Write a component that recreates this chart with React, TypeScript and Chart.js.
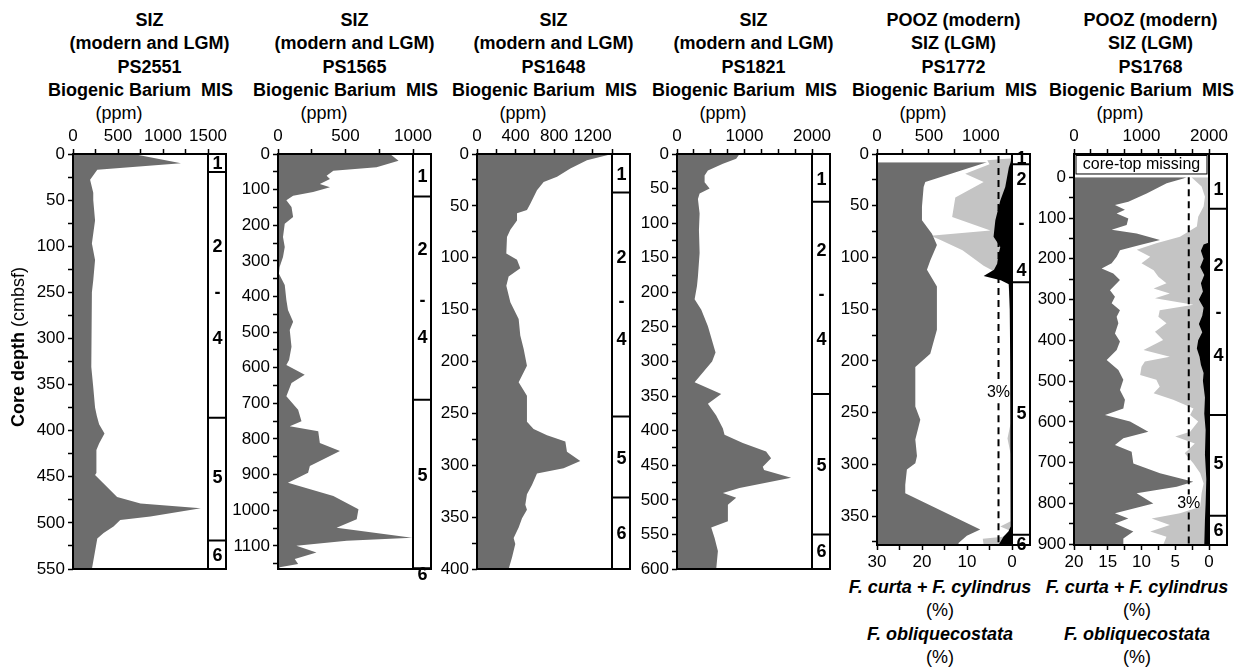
import React, { useEffect, useRef } from 'react';
import { Chart, registerables } from 'chart.js';

Chart.register(...registerables);

const FONT = '"Liberation Sans", Arial, Helvetica, sans-serif';
const DARK = '#6d6d6d';
const LIGHT = '#c4c4c4';

// ---------------- Panel 1: PS2551 (depth in axis units; labels below) ----------------
const P1_DEPTH = [0, 10, 17, 28, 42, 50, 72, 97, 115, 137, 150, 172, 208, 231, 253, 275, 284, 293, 303, 314, 321, 346, 348, 372, 379, 384, 393, 397, 404, 411, 417, 450];
const P1_BA = [670, 1200, 270, 190, 225, 225, 245, 210, 245, 225, 210, 200, 210, 200, 225, 245, 265, 290, 350, 290, 260, 260, 245, 490, 750, 1420, 860, 525, 450, 340, 270, 210];
const P1_Y_LABELS = ['0', '50', '100', '250', '300', '350', '400', '450', '500', '550'];
const P1_MIS_BOUNDS = [19.5, 286, 419];
const P1_MIS_LABELS = ['1', '2', '-', '4', '5', '6'];
const P1_MIS_AT = [10, 100, 150, 200, 350, 435];

// ---------------- Panel 2: PS1565 ----------------
const P2_DEPTH = [0, 19, 37, 47, 61, 70, 84, 93, 107, 117, 130, 149, 177, 196, 233, 261, 289, 317, 336, 368, 410, 438, 471, 494, 541, 578, 592, 620, 643, 680, 718, 750, 764, 778, 811, 834, 876, 895, 923, 960, 997, 1025, 1049, 1077, 1086, 1100, 1119, 1137, 1151, 1160, 1165];
const P2_BA = [830, 893, 730, 410, 360, 385, 310, 385, 260, 112, 62, 100, 112, 50, 37, 50, 37, 12, 7, 50, 62, 74, 112, 87, 100, 82, 62, 198, 100, 62, 149, 174, 87, 298, 310, 459, 236, 223, 74, 410, 596, 583, 434, 993, 509, 136, 285, 124, 149, 12, 10];
const P2_MIS_BOUNDS = [119, 690, 1163];
const P2_MIS_LABELS = ['1', '2', '-', '4', '5', '6'];
const P2_MIS_AT = [61, 266, 410, 513, 900, 1180];

// ---------------- Panel 3: PS1648 ----------------
const P3_DEPTH = [0, 6, 14, 22, 27, 35, 48, 54, 57, 64, 73, 80, 96, 102, 110, 118, 127, 143, 159, 175, 188, 204, 220, 233, 245, 258, 265, 271, 277, 287, 296, 303, 308, 319, 328, 338, 343, 351, 360, 370, 376, 389, 400];
const P3_BA = [1400, 1140, 968, 830, 691, 622, 553, 518, 415, 415, 346, 311, 304, 415, 449, 328, 304, 346, 432, 449, 484, 518, 432, 518, 518, 518, 587, 726, 916, 933, 1071, 898, 622, 570, 518, 501, 518, 467, 432, 380, 397, 363, 328];
const P3_MIS_BOUNDS = [37, 253, 331];
const P3_MIS_LABELS = ['1', '2', '-', '4', '5', '6'];
const P3_MIS_AT = [19, 99, 142, 178, 293, 365];

// ---------------- Panel 4: PS1821 ----------------
const P4_DEPTH = [0, 7, 14, 24, 31, 41, 50, 57, 65, 86, 110, 143, 177, 191, 210, 225, 249, 287, 300, 330, 347, 361, 378, 397, 406, 418, 430, 440, 452, 457, 468, 483, 490, 497, 507, 531, 540, 555, 574, 600];
const P4_BA = [926, 877, 680, 458, 409, 409, 483, 335, 310, 335, 325, 335, 310, 296, 261, 360, 458, 571, 520, 261, 655, 458, 581, 680, 704, 975, 1320, 1394, 1271, 1290, 1690, 926, 680, 877, 754, 754, 507, 557, 606, 581];
const P4_MIS_BOUNDS = [69, 347, 550];
const P4_MIS_LABELS = ['1', '2', '-', '4', '5', '6'];
const P4_MIS_AT = [36, 139, 203, 268, 449, 574];

// ---------------- Panel 5: PS1772 ----------------
const P5_DEPTH = [8, 27, 32, 51, 64, 77, 88, 103, 112, 128, 148, 170, 193, 206, 225, 244, 257, 276, 292, 299, 305, 320, 328, 363, 369, 376, 378];
const P5_BA = [1058, 465, 449, 433, 433, 529, 577, 513, 481, 577, 577, 577, 513, 369, 369, 369, 417, 369, 385, 369, 288, 272, 272, 994, 865, 785, 785];
const P5_CC_DEPTH = [4, 6, 10, 19, 27, 42, 61, 74, 79, 83, 93, 108, 115, 119, 140, 200, 260, 275, 290, 355, 360, 364, 370, 372, 378];
const P5_CC = [0, 5.5, 5.0, 10.4, 6.3, 12.6, 13.3, 4.8, 18.1, 16, 11, 6.3, 3.3, 1.0, 0.5, 0.4, 0.3, 1.0, 0.3, 0.3, 2.6, 0.5, 2.0, 6.5, 6.3];
const P5_OB_DEPTH = [0, 8, 13, 32, 45, 64, 80, 90, 97, 106, 112, 118, 122, 126, 150, 200, 300, 360, 365, 370, 378];
const P5_OB = [0, 0.3, 0.7, 1.5, 2.6, 3.7, 4.1, 2.6, 3.0, 3.3, 4.0, 6.3, 2.5, 0.7, 0.5, 0.4, 0.3, 0.3, 0.8, 1.9, 3.0];
const P5_DASH_DEPTH = [2, 221, 231, 241, 378];
const P5_DASH = [3, 3, null, 3, 3];
const P5_DASH_LABEL_AT = 231;
const P5_MIS_BOUNDS = [10, 124, 368];
const P5_MIS_LABELS = ['1', '2', '-', '4', '5', '6'];
const P5_MIS_AT = [4, 24, 67, 112, 250, 377];

// ---------------- Panel 6: PS1768 ----------------
const P6_DEPTH = [0, 3, 15, 40, 60, 68, 80, 89, 101, 117, 129, 138, 154, 166, 179, 195, 211, 224, 236, 252, 277, 293, 309, 326, 342, 358, 383, 403, 424, 448, 473, 497, 522, 546, 567, 583, 599, 624, 640, 657, 673, 702, 726, 747, 759, 775, 800, 824, 837, 849, 869, 886, 902];
const P6_BA = [1669, 1620, 1373, 1076, 805, 607, 755, 632, 805, 780, 558, 928, 1274, 978, 681, 632, 558, 410, 582, 681, 533, 607, 558, 681, 632, 657, 607, 681, 632, 484, 657, 731, 681, 755, 731, 459, 830, 1101, 731, 607, 854, 879, 1274, 1768, 1521, 928, 1175, 607, 805, 607, 879, 731, 731];
const P6_CC_DEPTH = [0, 23, 48, 72, 97, 121, 146, 162, 178, 195, 211, 228, 244, 260, 273, 285, 297, 313, 326, 342, 358, 379, 399, 424, 440, 452, 465, 485, 497, 514, 530, 546, 567, 583, 599, 624, 636, 653, 677, 702, 726, 751, 775, 808, 824, 837, 853, 869, 882, 902];
const P6_CC = [2.6, 1.1, 0.6, 0.8, 1.6, 1.8, 4.3, 7.8, 10.7, 8.7, 10.0, 8.2, 7.5, 6.3, 8.2, 5.8, 8.0, 2.3, 7.3, 7.5, 6.3, 8.0, 6.8, 9.7, 5.8, 9.5, 10.0, 10.2, 7.8, 7.3, 8.2, 5.3, 2.3, 2.8, 1.6, 2.8, 5.0, 2.1, 3.6, 2.3, 1.3, 0.8, 1.1, 1.3, 4.3, 8.5, 5.8, 8.7, 6.3, 6.8];
const P6_OB_DEPTH = [0, 160, 165, 180, 200, 220, 240, 260, 280, 300, 320, 340, 360, 380, 400, 420, 440, 460, 480, 500, 540, 580, 620, 680, 740, 800, 840, 880, 902];
const P6_OB = [0, 0, 0.8, 1.2, 0.8, 1.3, 0.7, 1.2, 0.9, 1.5, 0.8, 1.0, 1.5, 1.0, 1.6, 1.8, 1.4, 1.2, 0.8, 0.9, 0.6, 0.7, 0.5, 0.6, 0.4, 0.5, 0.6, 0.7, 0.7];
const P6_DASH_DEPTH = [0, 778, 800, 822, 902];
const P6_DASH = [3, 3, null, 3, 3];
const P6_DASH_LABEL_AT = 800;
const P6_MIS_BOUNDS = [77, 583, 830];
const P6_MIS_LABELS = ['1', '2', '-', '4', '5', '6'];
const P6_MIS_AT = [29, 216, 330, 437, 700, 866];
const P6_CORE_TOP_END = -8;

// ---------------- layout constants ----------------
const AXIS_X = [73, 278, 477, 677, 877, 1074];
const CANVAS_TOP = 110;
const X_TOP_H = 44;
const X_BOT_H = 30;
const YW = 70;
const PLOT_W = 135;
const MIS_W = 18;
const RIGHT_PAD = MIS_W + 4;
const CANVAS_W = YW + PLOT_W + RIGHT_PAD;

const steps = (a: number, b: number, s: number) => {
  const out: number[] = [];
  for (let v = a; v <= b + 1e-9; v += s) out.push(+v.toFixed(4));
  return out;
};
const zip = (ys: number[], xs: (number | null)[]) => ys.map((y, i) => ({ x: xs[i], y }));

const PANELS: any[] = [
  {
    titles: ['SIZ', '(modern and LGM)', 'PS2551'], depth: P1_DEPTH, ba: P1_BA,
    xMax: 1500, xTicks: steps(0, 1500, 250), xLab: (v: number) => (v % 500 === 0 ? String(v) : ''),
    yMin: 0, yMax: 450, yTicks: steps(0, 450, 25), yLab: (v: number) => (v % 50 === 0 ? P1_Y_LABELS[v / 50] : ''),
    mis: P1_MIS_BOUNDS, misLab: P1_MIS_LABELS, misAt: P1_MIS_AT, plotBottom: 569,
  },
  {
    titles: ['SIZ', '(modern and LGM)', 'PS1565'], depth: P2_DEPTH, ba: P2_BA,
    xMax: 1000, xTicks: steps(0, 1000, 250), xLab: (v: number) => (v % 500 === 0 ? String(v) : ''),
    yMin: 0, yMax: 1165, yTicks: steps(0, 1150, 50), yLab: (v: number) => (v % 100 === 0 ? String(v) : ''),
    mis: P2_MIS_BOUNDS, misLab: P2_MIS_LABELS, misAt: P2_MIS_AT, plotBottom: 569,
  },
  {
    titles: ['SIZ', '(modern and LGM)', 'PS1648'], depth: P3_DEPTH, ba: P3_BA,
    xMax: 1400, xTicks: steps(0, 1400, 200), xLab: (v: number) => (v % 400 === 0 ? String(v) : ''),
    yMin: 0, yMax: 400, yTicks: steps(0, 400, 25), yLab: (v: number) => (v % 50 === 0 ? String(v) : ''),
    mis: P3_MIS_BOUNDS, misLab: P3_MIS_LABELS, misAt: P3_MIS_AT, plotBottom: 569,
  },
  {
    titles: ['SIZ', '(modern and LGM)', 'PS1821'], depth: P4_DEPTH, ba: P4_BA,
    xMax: 2000, xTicks: steps(0, 2000, 250), xLab: (v: number) => (v % 1000 === 0 ? String(v) : ''),
    yMin: 0, yMax: 600, yTicks: steps(0, 600, 25), yLab: (v: number) => (v % 50 === 0 ? String(v) : ''),
    mis: P4_MIS_BOUNDS, misLab: P4_MIS_LABELS, misAt: P4_MIS_AT, plotBottom: 569,
  },
  {
    titles: ['POOZ (modern)', 'SIZ (LGM)', 'PS1772'], depth: P5_DEPTH, ba: P5_BA,
    xMax: 1300, xTicks: steps(0, 1250, 250), xLab: (v: number) => (v % 500 === 0 ? String(v) : ''),
    yMin: 0, yMax: 378, yTicks: steps(0, 375, 25), yLab: (v: number) => (v % 50 === 0 ? String(v) : ''),
    mis: P5_MIS_BOUNDS, misLab: P5_MIS_LABELS, misAt: P5_MIS_AT, plotBottom: 545,
    pctMax: 30, pctTicks: steps(0, 30, 5), pctLab: (v: number) => (v % 10 === 0 ? String(v) : ''),
    ccDepth: P5_CC_DEPTH, cc: P5_CC, obDepth: P5_OB_DEPTH, ob: P5_OB,
    dashDepth: P5_DASH_DEPTH, dash: P5_DASH, dashLabelAt: P5_DASH_LABEL_AT,
  },
  {
    titles: ['POOZ (modern)', 'SIZ (LGM)', 'PS1768'], depth: P6_DEPTH, ba: P6_BA,
    xMax: 2000, xTicks: steps(0, 2000, 250), xLab: (v: number) => (v % 1000 === 0 ? String(v) : ''),
    yMin: -57, yMax: 902, yTicks: steps(0, 900, 50), yLab: (v: number) => (v % 100 === 0 ? String(v) : ''),
    mis: P6_MIS_BOUNDS, misLab: P6_MIS_LABELS, misAt: P6_MIS_AT, plotBottom: 545,
    pctMax: 20, pctTicks: steps(0, 20, 2.5), pctLab: (v: number) => (v % 5 === 0 ? String(v) : ''),
    ccDepth: P6_CC_DEPTH, cc: P6_CC, obDepth: P6_OB_DEPTH, ob: P6_OB,
    dashDepth: P6_DASH_DEPTH, dash: P6_DASH, dashLabelAt: P6_DASH_LABEL_AT,
    coreTopEnd: P6_CORE_TOP_END,
  },
];

const tickFont = { family: FONT, size: 17 };
const gridCfg = { drawOnChartArea: false, drawTicks: true, tickLength: 5, tickColor: '#000', tickWidth: 1.5 };

function decorPlugin(p: any) {
  return {
    id: 'decor',
    afterDraw(chart: any) {
      const { ctx, chartArea: a, scales } = chart;
      const y = scales.y;
      ctx.save();
      if (p.coreTopEnd !== undefined) {
        const yb = y.getPixelForValue(p.coreTopEnd);
        ctx.fillStyle = '#fff';
        ctx.fillRect(a.left, a.top, a.right - a.left, yb - a.top);
        ctx.strokeStyle = '#000';
        ctx.lineWidth = 1;
        ctx.strokeRect(a.left + 2, a.top + 1.5, a.right - a.left - 4, yb - a.top - 1.5);
        ctx.fillStyle = '#000';
        ctx.font = `16px ${FONT}`;
        ctx.textAlign = 'center';
        ctx.textBaseline = 'middle';
        ctx.fillText('core-top missing', (a.left + a.right) / 2, (a.top + yb) / 2 + 1);
      }
      if (p.dashLabelAt !== undefined) {
        const x2 = scales.x2;
        ctx.fillStyle = '#000';
        ctx.font = `16px ${FONT}`;
        ctx.textAlign = 'center';
        ctx.textBaseline = 'middle';
        ctx.fillText('3%', x2.getPixelForValue(3), y.getPixelForValue(p.dashLabelAt));
      }
      ctx.strokeStyle = '#000';
      ctx.lineWidth = 2;
      ctx.strokeRect(a.left, a.top, a.right - a.left, a.bottom - a.top);
      const mx0 = a.right;
      ctx.strokeRect(mx0, a.top, MIS_W, a.bottom - a.top);
      ctx.beginPath();
      for (const b of p.mis) {
        const py = Math.min(y.getPixelForValue(b), a.bottom);
        ctx.moveTo(mx0, py);
        ctx.lineTo(mx0 + MIS_W, py);
      }
      ctx.stroke();
      ctx.fillStyle = '#000';
      ctx.font = `bold 18px ${FONT}`;
      ctx.textAlign = 'center';
      ctx.textBaseline = 'middle';
      p.misLab.forEach((t: string, i: number) => {
        ctx.fillText(t, mx0 + MIS_W / 2 + 0.5, y.getPixelForValue(p.misAt[i]) + 1);
      });
      ctx.restore();
    },
  };
}

function buildConfig(p: any) {
  const hasPct = !!p.cc;
  const area = (data: any[], axis: string, color: string, label: string) => ({
    label, data, xAxisID: axis, yAxisID: 'y', fill: 'origin', backgroundColor: color,
    borderColor: 'rgba(0,0,0,0)', borderWidth: 0, pointRadius: 0, tension: 0,
  });
  const datasets: any[] = [];
  if (hasPct) {
    datasets.push({
      label: '3%', data: zip(p.dashDepth, p.dash), xAxisID: 'x2', yAxisID: 'y', fill: false,
      borderColor: '#000', borderWidth: 2, borderDash: [7, 5], pointRadius: 0, spanGaps: false,
    });
    datasets.push(area(zip(p.obDepth, p.ob), 'x2', '#000', 'F. obliquecostata'));
  }
  datasets.push(area(zip(p.depth, p.ba), 'x', DARK, 'Biogenic Barium'));
  if (hasPct) datasets.push(area(zip(p.ccDepth, p.cc), 'x2', LIGHT, 'F. curta + F. cylindrus'));

  const scales: any = {
    x: {
      type: 'linear', position: 'top', min: 0, max: p.xMax,
      afterBuildTicks: (s: any) => { s.ticks = p.xTicks.map((v: number) => ({ value: v })); },
      ticks: { callback: (v: number) => p.xLab(v), autoSkip: false, maxRotation: 0, minRotation: 0, font: tickFont, color: '#000', padding: 2 },
      grid: gridCfg, border: { display: false },
      afterFit: (s: any) => { s.height = X_TOP_H; s.paddingLeft = 0; s.paddingRight = 0; },
    },
    y: {
      type: 'linear', reverse: true, min: p.yMin, max: p.yMax,
      afterBuildTicks: (s: any) => { s.ticks = p.yTicks.map((v: number) => ({ value: v })); },
      ticks: { callback: (v: number) => p.yLab(v), autoSkip: false, font: tickFont, color: '#000', padding: 3 },
      grid: gridCfg, border: { display: false },
      afterFit: (s: any) => { s.width = YW; s.paddingTop = 0; s.paddingBottom = 0; },
    },
  };
  if (hasPct) {
    scales.x2 = {
      type: 'linear', position: 'bottom', min: 0, max: p.pctMax, reverse: true,
      afterBuildTicks: (s: any) => { s.ticks = p.pctTicks.map((v: number) => ({ value: v })); },
      ticks: { callback: (v: number) => p.pctLab(v), autoSkip: false, maxRotation: 0, minRotation: 0, font: tickFont, color: '#000', padding: 2 },
      grid: gridCfg, border: { display: false },
      afterFit: (s: any) => { s.height = X_BOT_H; s.paddingLeft = 0; s.paddingRight = 0; },
    };
  }
  return {
    type: 'line',
    data: { datasets },
    options: {
      responsive: false,
      animation: false,
      indexAxis: 'y',
      events: [],
      layout: { padding: { top: 0, left: 0, right: RIGHT_PAD, bottom: hasPct ? 0 : 24 } },
      plugins: { legend: { display: false }, tooltip: { enabled: false }, title: { display: false } },
      scales,
    },
    plugins: [decorPlugin(p)],
  };
}

function canvasHeight(p: any) {
  return p.cc ? p.plotBottom - CANVAS_TOP + X_BOT_H : p.plotBottom - CANVAS_TOP + 24;
}

function PanelChart({ p, left }: { p: any; left: number }) {
  const ref = useRef<HTMLCanvasElement | null>(null);
  const h = canvasHeight(p);
  useEffect(() => {
    const chart = new Chart(ref.current as HTMLCanvasElement, buildConfig(p) as any);
    return () => chart.destroy();
  }, []);
  return (
    <canvas
      ref={ref}
      width={CANVAS_W}
      height={h}
      style={{ position: 'absolute', left, top: CANVAS_TOP, width: CANVAS_W, height: h }}
    />
  );
}

const txt = (x: number, cy: number, content: any, style: any, align: 'center' | 'right' = 'center') => ({
  position: 'absolute' as const,
  left: x,
  top: cy - 11,
  height: 22,
  lineHeight: '22px',
  whiteSpace: 'nowrap' as const,
  transform: align === 'center' ? 'translateX(-50%)' : 'translateX(-100%)',
  ...style,
});

const BOLD = { fontWeight: 'bold', fontSize: 18 };
const REG = { fontWeight: 'normal', fontSize: 18 };
const BI = { fontWeight: 'bold', fontStyle: 'italic', fontSize: 18 };

export default function App() {
  return (
    <div
      style={{
        position: 'fixed', left: 0, top: 0, width: 1245, height: 667, background: '#fff',
        fontFamily: FONT, color: '#000', overflow: 'hidden',
      }}
    >
      {PANELS.map((p, i) => {
        const ax = AXIS_X[i];
        const cx = ax + (PLOT_W + MIS_W) / 2;
        return (
          <React.Fragment key={i}>
            <div style={txt(cx, 20, null, BOLD)}>{p.titles[0]}</div>
            <div style={txt(cx, 43, null, BOLD)}>{p.titles[1]}</div>
            <div style={txt(cx, 67, null, BOLD)}>{p.titles[2]}</div>
            <div style={txt(ax + 118, 90, null, BOLD, 'right')}>Biogenic Barium</div>
            <div style={txt(ax + PLOT_W + MIS_W / 2, 90, null, BOLD)}>MIS</div>
            <div style={txt(ax + 46, 113, null, REG)}>(ppm)</div>
            {p.cc ? (
              <>
                <div style={txt(ax + 63, 587, null, BI)}>F. curta + F. cylindrus</div>
                <div style={txt(ax + 63, 610, null, REG)}>(%)</div>
                <div style={txt(ax + 63, 634, null, BI)}>F. obliquecostata</div>
                <div style={txt(ax + 63, 657, null, REG)}>(%)</div>
              </>
            ) : null}
            <PanelChart p={p} left={ax - YW} />
          </React.Fragment>
        );
      })}
      <div
        style={{
          position: 'absolute', left: 18, top: 347, whiteSpace: 'nowrap', fontSize: 18,
          transform: 'translate(-50%, -50%) rotate(-90deg)', lineHeight: '22px',
        }}
      >
        <span style={{ fontWeight: 'bold' }}>Core depth</span> (cmbsf)
      </div>
    </div>
  );
}
